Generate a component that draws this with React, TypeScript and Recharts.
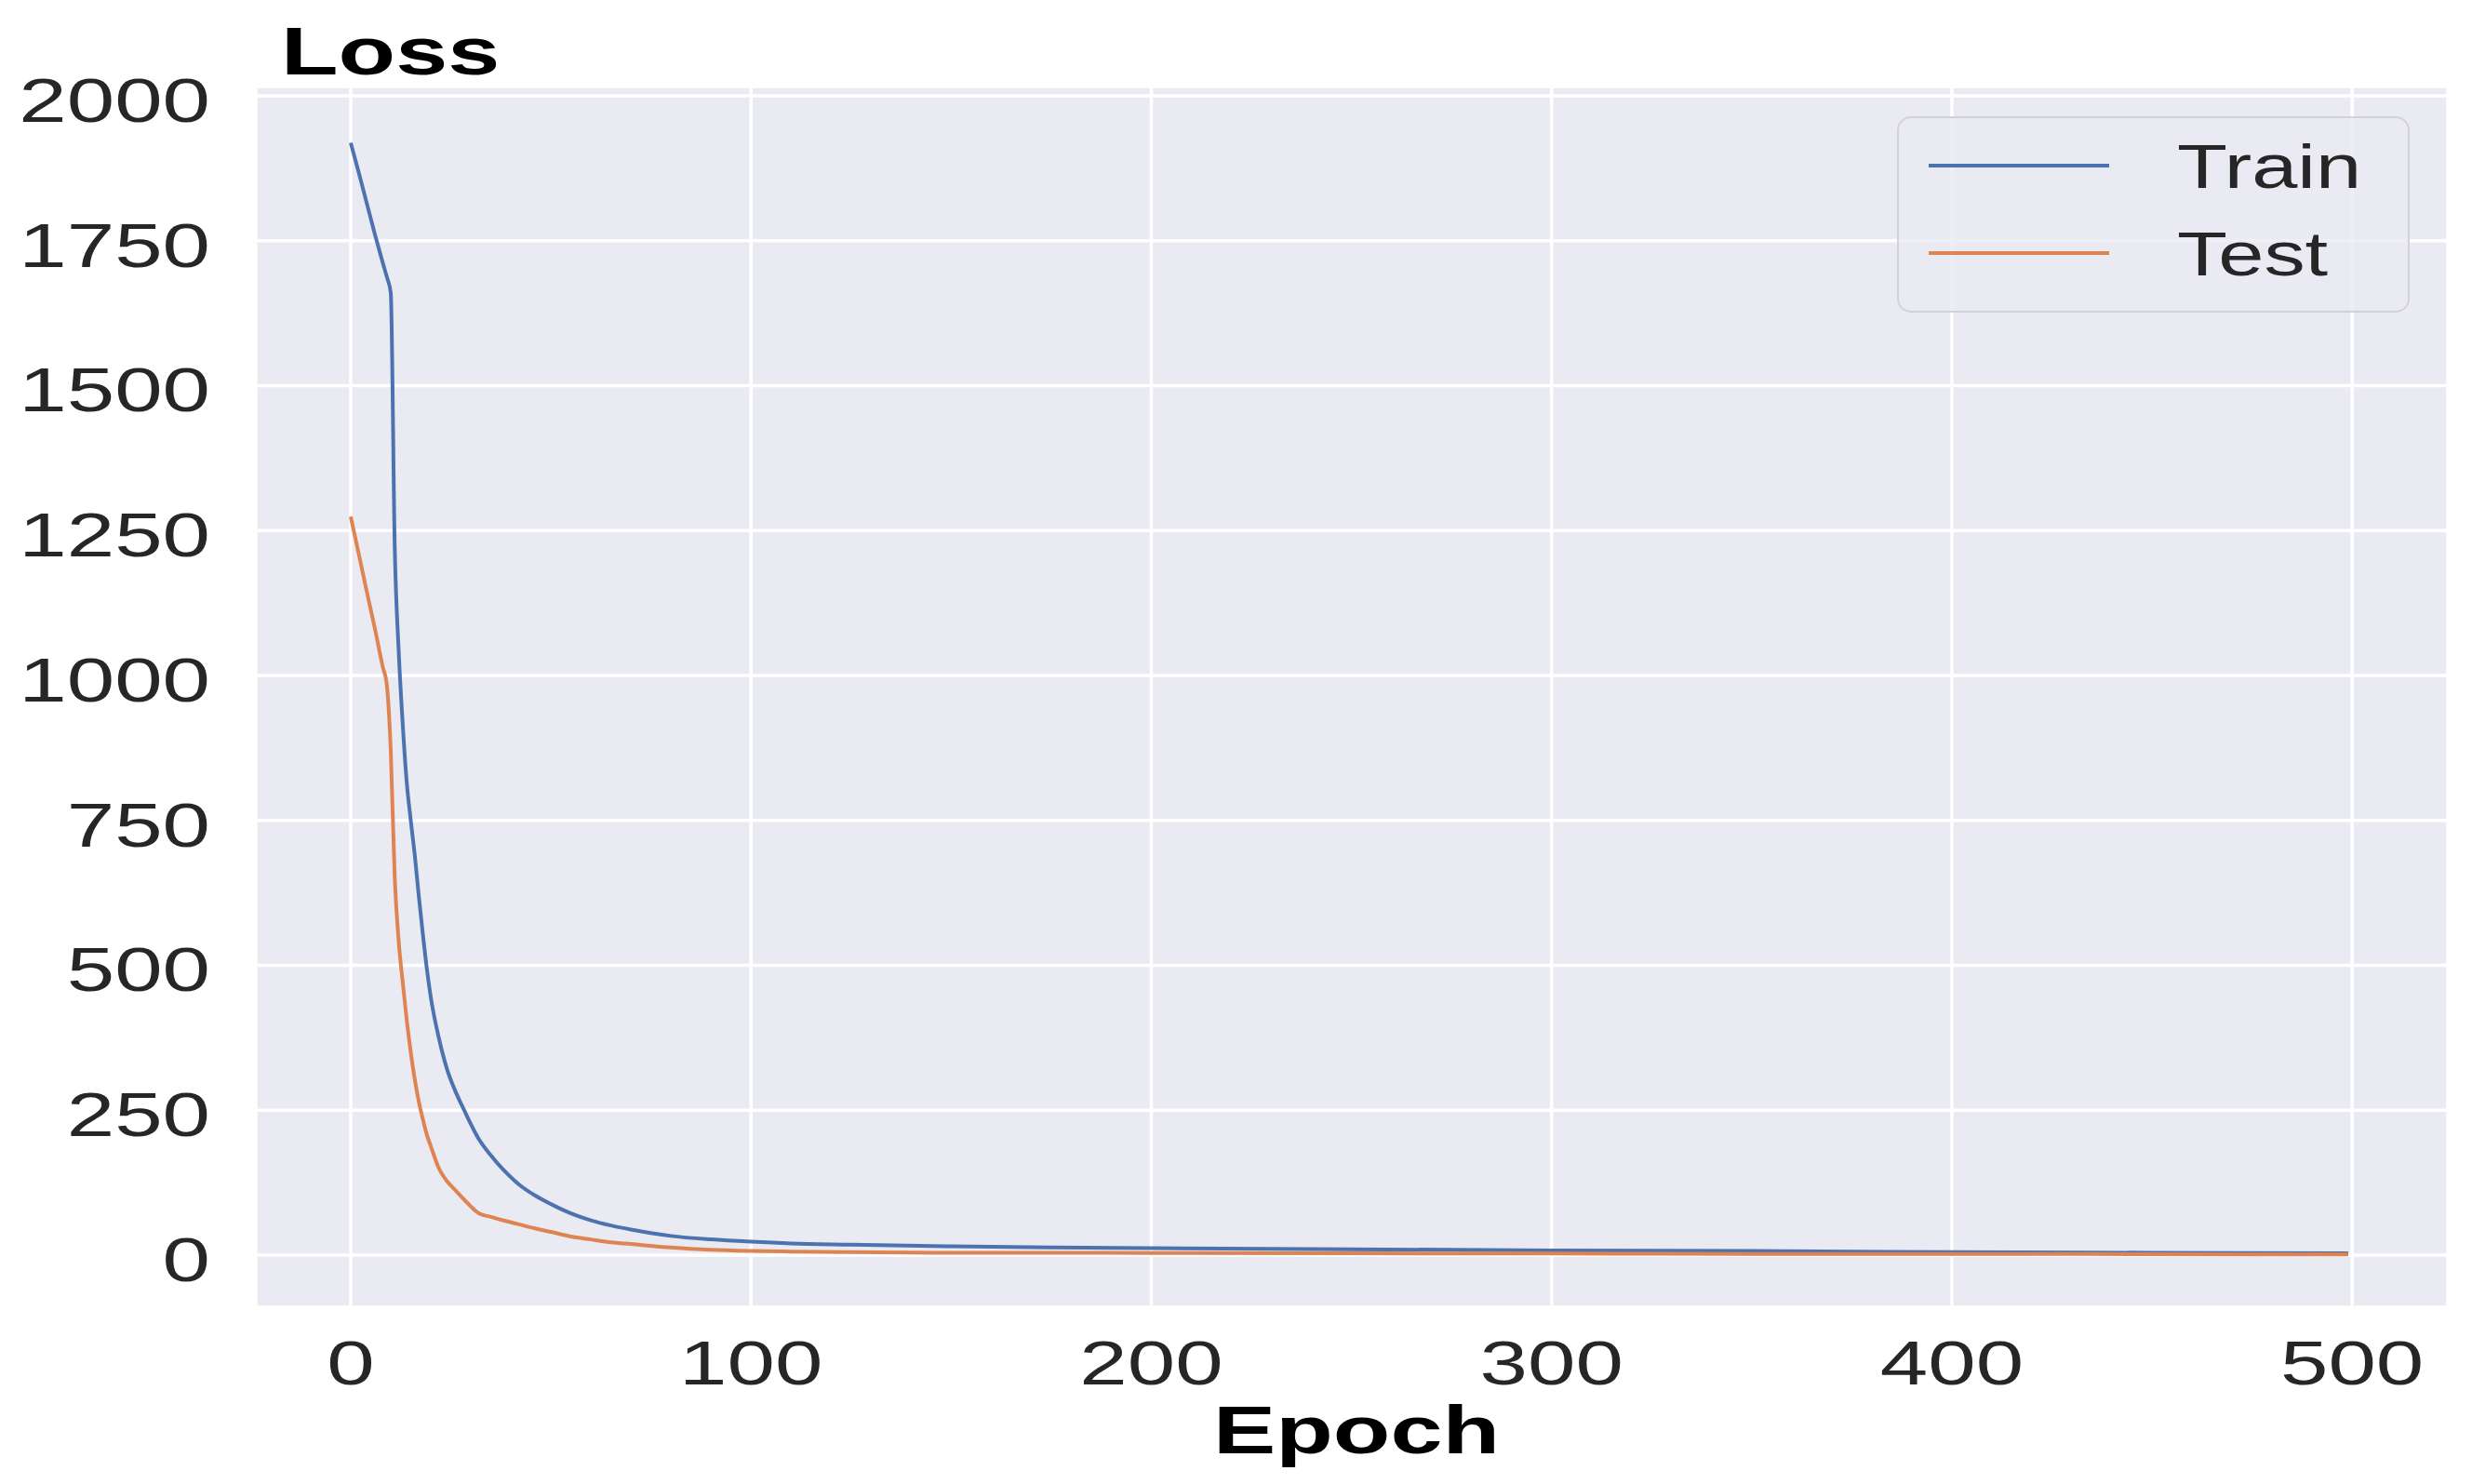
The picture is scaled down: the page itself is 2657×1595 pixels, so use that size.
import React from "react";
import { LineChart, Line, XAxis, YAxis, CartesianGrid, Legend, Label } from "recharts";

const epochs = [0, 2, 4, 6, 8, 9, 10, 11, 12, 13, 14, 15, 16, 17, 18, 19, 20, 22, 24, 26, 28, 30, 32, 35, 38, 42, 46, 50, 55, 60, 65, 70, 80, 90, 100, 110, 125, 150, 175, 200, 250, 300, 350, 400, 450, 499];
const trainLoss = [1919, 1868, 1815, 1762, 1712, 1688, 1660, 1220, 1040, 915, 815, 750, 690, 620, 555, 495, 445, 375, 322, 285, 255, 226, 200, 172, 148, 122, 103, 88, 72, 60, 51, 44, 33, 27, 23, 20, 18, 15, 13, 12, 10, 8, 7, 5, 4, 3];
const testLoss = [1274, 1210, 1145, 1082, 1015, 985, 870, 650, 540, 470, 405, 350, 303, 265, 235, 208, 188, 150, 128, 113, 98, 84, 72, 66, 60, 53, 46, 40, 32, 27, 22, 19, 13, 9, 7, 6, 5, 4, 4, 3.5, 3, 2.5, 2, 2, 1.5, 1];

const xTicks = [0, 100, 200, 300, 400, 500];
const yTicks = [0, 250, 500, 750, 1000, 1250, 1500, 1750, 2000];

const SERIES = [
  { key: "train", name: "Train", color: "#4C72B0" },
  { key: "test", name: "Test", color: "#DD8452" },
];

const FONT = "'Liberation Sans', Arial, sans-serif";
const TICK_COLOR = "#262626";
const STRETCH = 1.38;

const data = epochs.map((e, i) => ({ epoch: e, train: trainLoss[i], test: testLoss[i] }));

function XTick({ x, y, payload }: any) {
  return (
    <text
      transform={`translate(${x},${y + 83}) scale(${STRETCH},1)`}
      textAnchor="middle"
      fontFamily={FONT}
      fontSize={67}
      fill={TICK_COLOR}
    >
      {payload.value}
    </text>
  );
}

function YTick({ x, y, payload }: any) {
  return (
    <text
      transform={`translate(${x},${y + 28}) scale(${STRETCH},1)`}
      textAnchor="end"
      fontFamily={FONT}
      fontSize={67}
      fill={TICK_COLOR}
    >
      {payload.value}
    </text>
  );
}

const epochLabel = () => (
  <text
    transform={`translate(1458,1562) scale(1.4,1)`}
    textAnchor="middle"
    fontFamily={FONT}
    fontWeight="bold"
    fontSize={72}
    fill="#000"
  >
    Epoch
  </text>
);

const lossLabel = () => (
  <text
    transform={`translate(302,80) scale(1.4,1)`}
    textAnchor="start"
    fontFamily={FONT}
    fontWeight="bold"
    fontSize={72}
    fill="#000"
  >
    Loss
  </text>
);

function LegendBox() {
  return (
    <svg width={552} height={212} style={{ display: "block" }}>
      <rect x={1} y={1} width={549} height={209} rx={14} ry={14} fill="rgba(234,234,242,0.8)" stroke="#d2d2d6" strokeWidth={2} />
      {SERIES.map((s, i) => (
        <g key={s.key}>
          <line x1={34} x2={228} y1={53 + i * 94} y2={53 + i * 94} stroke={s.color} strokeWidth={4} />
          <text
            transform={`translate(301,${77 + i * 94}) scale(1.32,1)`}
            fontFamily={FONT}
            fontSize={67}
            fill={TICK_COLOR}
          >
            {s.name}
          </text>
        </g>
      ))}
    </svg>
  );
}

export default function App() {
  return (
    <div style={{ position: "absolute", left: 0, top: 0, background: "#fff" }}>
      <LineChart width={2657} height={1595} data={data} margin={{ top: 93, right: 26, bottom: 90, left: 25 }}>
        <CartesianGrid fill="#EAEAF2" fillOpacity={1} stroke="#ffffff" strokeWidth={3.5} />
        <XAxis
          type="number"
          dataKey="epoch"
          domain={[-23.7, 523.9]}
          ticks={xTicks}
          allowDataOverflow
          height={100}
          axisLine={false}
          tickLine={false}
          tickSize={0}
          tickMargin={0}
          tick={<XTick />}
        >
          <Label content={epochLabel} />
        </XAxis>
        <YAxis
          type="number"
          domain={[-90, 2016]}
          ticks={yTicks}
          allowDataOverflow
          width={250}
          axisLine={false}
          tickLine={false}
          tickSize={0}
          tickMargin={49}
          tick={<YTick />}
        >
          <Label content={lossLabel} />
        </YAxis>
        <Legend
          layout="vertical"
          align="center"
          verticalAlign="middle"
          wrapperStyle={{ left: 2039, top: 125, width: 552, height: 212 }}
          content={() => <LegendBox />}
        />
        {SERIES.map((s) => (
          <Line
            key={s.key}
            type="monotone"
            dataKey={s.key}
            name={s.name}
            stroke={s.color}
            strokeWidth={4}
            dot={false}
            isAnimationActive={false}
          />
        ))}
      </LineChart>
    </div>
  );
}
